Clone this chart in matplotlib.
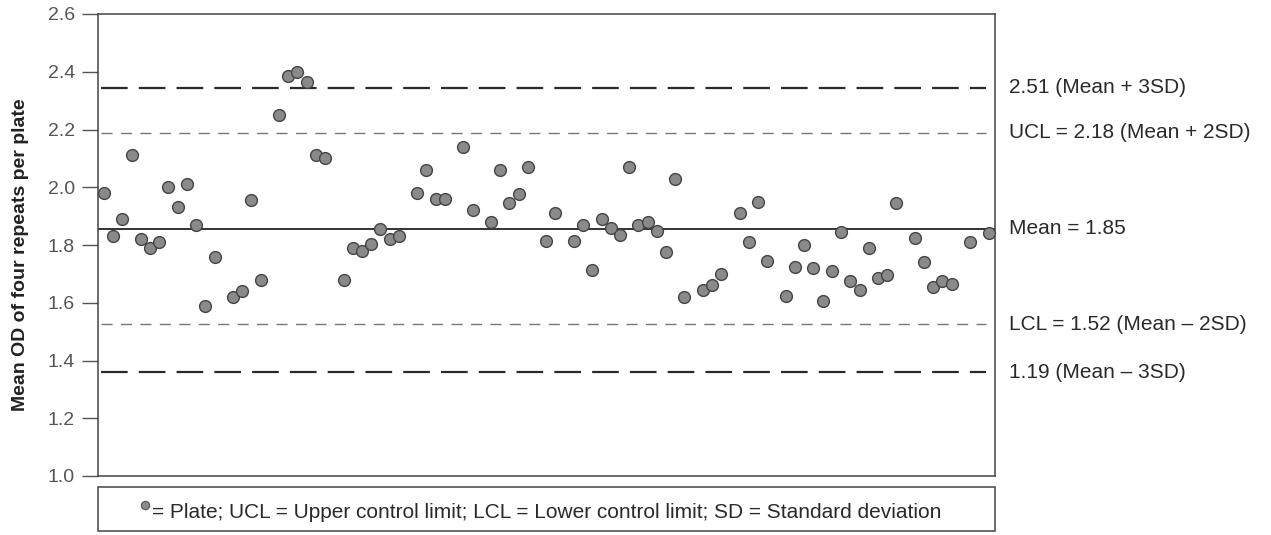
import numpy as np
import matplotlib
matplotlib.use('Agg')
import matplotlib.pyplot as plt
from matplotlib.patches import Rectangle
from matplotlib.lines import Line2D

plt.rcParams['font.family'] = ['Liberation Sans', 'DejaVu Sans']

# plate number and mean OD of four repeats
plates = [1, 2, 3, 4, 5, 6, 7, 8, 9, 10, 11, 12, 13,
          15, 16, 17, 18, 20, 21, 22, 23, 24, 25,
          27, 28, 29, 30, 31, 32, 33, 35, 36, 37, 38,
          40, 41, 43, 44, 45, 46, 47, 49, 50,
          52, 53, 54, 55, 56, 57, 58, 59, 60, 61, 62, 63, 64,
          66, 67, 68, 70, 71, 72, 73,
          75, 76, 77, 78, 79, 80, 81, 82, 83, 84, 85, 86, 87,
          89, 90, 91, 92, 93, 95, 97]
od = [1.98, 1.83, 1.89, 2.11, 1.82, 1.79, 1.81, 2.00, 1.93, 2.01, 1.87, 1.59, 1.76,
      1.62, 1.64, 1.955, 1.68, 2.25, 2.385, 2.40, 2.365, 2.11, 2.10,
      1.68, 1.79, 1.78, 1.805, 1.855, 1.82, 1.83, 1.98, 2.06, 1.96, 1.96,
      2.14, 1.92, 1.88, 2.06, 1.945, 1.975, 2.07, 1.815, 1.91,
      1.815, 1.87, 1.715, 1.89, 1.86, 1.835, 2.07, 1.87, 1.88, 1.85, 1.775, 2.03, 1.62,
      1.645, 1.66, 1.70, 1.91, 1.81, 1.95, 1.745,
      1.625, 1.725, 1.80, 1.72, 1.605, 1.71, 1.845, 1.675, 1.645, 1.79, 1.685, 1.695, 1.945,
      1.825, 1.74, 1.655, 1.675, 1.665, 1.81, 1.84]

# control lines as drawn, with their labels
line_y = [2.345, 2.188, 1.857, 1.526, 1.36]
line_labels = ['2.51 (Mean + 3SD)', 'UCL = 2.18 (Mean + 2SD)', 'Mean = 1.85',
               'LCL = 1.52 (Mean \u2013 2SD)', '1.19 (Mean \u2013 3SD)']
line_kind = ['3sd', '2sd', 'mean', '2sd', '3sd']

yticks = [1.0, 1.2, 1.4, 1.6, 1.8, 2.0, 2.2, 2.4, 2.6]

W, H = 1271, 535
fig = plt.figure(figsize=(W / 100, H / 100), dpi=100)
ax = fig.add_axes([98 / W, 1 - 476 / H, 897 / W, 462 / H])

styles = {
    '3sd': dict(color='#2a2a2a', lw=1.6, dashes=(12, 5)),
    '2sd': dict(color='#777777', lw=1.0, dashes=(8, 6)),
    'mean': dict(color='#333333', lw=1.4, ls='-'),
}
for yv, lab, kind in zip(line_y, line_labels, line_kind):
    st = styles[kind]
    if 'dashes' in st:
        ax.axhline(yv, xmin=0.003, xmax=0.99, color=st['color'], lw=st['lw'],
                   dashes=st['dashes'], zorder=1)
    else:
        ax.axhline(yv, color=st['color'], lw=st['lw'], ls='-', zorder=1)
    ax.text(1.016, yv, lab, transform=ax.get_yaxis_transform(), ha='left',
            va='center', fontsize=15, color='#2a2a2a')

ax.plot(plates, od, 'o', ms=8.5, mfc='#8a8a8a', mec='#444444', mew=1.0,
        zorder=3, clip_on=False)

ax.set_xlim(0.35, 97.7)
ax.set_ylim(1.0, 2.6)
ax.set_yticks(yticks)
ax.set_yticklabels([f'{t:.1f}' for t in yticks], fontsize=14, color='#555555')
ax.set_xticks([])
ax.tick_params(axis='y', direction='out', length=11.5, width=1.0, color='#555555', pad=5)
for s in ax.spines.values():
    s.set_color('#444444')
    s.set_linewidth(1.1)
ax.set_ylabel('Mean OD of four repeats per plate', fontsize=14, fontweight='bold',
              color='#222222')
ax.yaxis.set_label_coords(-0.077, 0.48)

# key box underneath
fig.add_artist(Rectangle((98 / W, 1 - 531 / H), 897 / W, 44 / H, transform=fig.transFigure,
                         fill=False, ec='#444444', lw=1.1))
fig.add_artist(Line2D([145 / W], [1 - 505 / H], marker='o', ms=6, mfc='#8a8a8a',
                      mec='#555555', mew=0.8, transform=fig.transFigure))
fig.text(152 / W, 1 - 512 / H,
         '= Plate; UCL = Upper control limit; LCL = Lower control limit; SD = Standard deviation',
         ha='left', va='center', fontsize=15, color='#2a2a2a')

fig.savefig('out.png', dpi=100)
